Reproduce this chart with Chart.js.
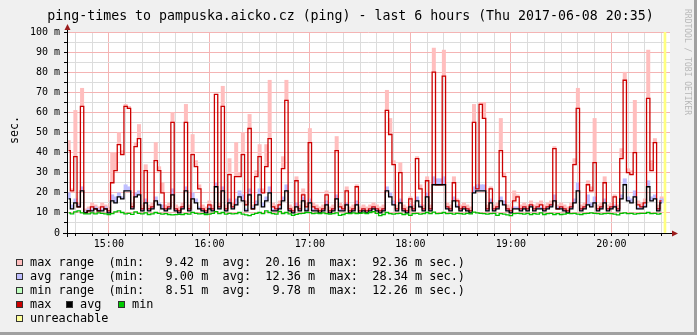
<!DOCTYPE html>
<html>
<head>
<meta charset="utf-8">
<script src="https://cdn.jsdelivr.net/npm/chart.js@4/dist/chart.umd.min.js"></script>
<style>
  html, body { margin: 0; padding: 0; }
  body { width: 697px; height: 335px; position: relative; overflow: hidden; background: #f0f0f0; font-family: 'DejaVu Sans Mono', monospace; }
  #frame { position: absolute; left: 0; top: 0; width: 694px; height: 332px; border-right: 3px solid #a0a0a0; border-bottom: 3px solid #a0a0a0; }
  canvas { position: absolute; left: 0; top: 0; }
  .t { position: absolute; white-space: pre; color: #000; }
  #title { left: 2px; top: 8px; width: 697px; text-align: center; font-size: 13.25px; line-height: 16px; }
  #unit { left: -6px; top: 123px; width: 40px; text-align: center; font-size: 11.7px; line-height: 14px; transform: rotate(-90deg); }
  #brand { left: 632px; top: 57px; width: 110px; text-align: center; font-size: 8px; line-height: 10px; color: #b8b8b8; transform: rotate(90deg); }
  .row { font-size: 11.85px; line-height: 14px; }
  .box { position: absolute; width: 5px; height: 5px; border: 1px solid #333; }
</style>
</head>
<body>
<div id="frame"></div>
<canvas id="myChart" width="697" height="335"></canvas>
<div class="t" id="title">ping-times to pampuska.aicko.cz (ping) - last 6 hours (Thu 2017-06-08 20:35)</div>
<div class="t" id="unit">sec.</div>
<div class="t" id="brand">RRDTOOL / TOBI OETIKER</div>
<div id="legend"></div>
<script>
// 2-minute bins starting 14:35 (minutes after 14:00)
const start = 35;
const step = 2;

// max (red line) and top of the pink "max range"
const maxLine = [
  41, 21, 38, 13, 63, 10, 11, 13, 12, 11,
  13, 12, 11, 25, 31, 44, 39, 63, 62, 13,
  43, 47, 12, 31, 12, 13, 36, 31, 20, 12,
  13, 55, 12, 11, 13, 55, 12, 39, 33, 22,
  12, 11, 14, 12, 69, 13, 63, 12, 29, 13,
  28, 28, 39, 14, 52, 12, 28, 38, 20, 33,
  47, 13, 12, 14, 32, 66, 12, 11, 26, 12,
  19, 13, 45, 13, 12, 11, 12, 19, 11, 12,
  41, 13, 12, 21, 11, 12, 23, 11, 12, 11,
  12, 13, 12, 11, 12, 61, 49, 34, 12, 30,
  12, 11, 17, 12, 37, 22, 12, 26, 12, 80,
  24, 24, 78, 13, 12, 25, 16, 12, 13, 12,
  11, 55, 22, 64, 57, 12, 22, 12, 13, 41,
  28, 12, 11, 16, 18, 12, 13, 12, 14, 12,
  13, 14, 12, 13, 14, 42, 12, 13, 12, 11,
  13, 34, 62, 12, 13, 24, 21, 35, 12, 13,
  25, 12, 13, 18, 12, 37, 76, 30, 29, 40,
  14, 13, 15, 67, 31, 45, 12, 16, null, null
];
const maxTop = [
  46, 22, 61, 15, 72, 12, 13, 15, 14, 13,
  15, 14, 13, 40, 40, 50, 41, 64, 63, 15,
  45, 54, 14, 34, 14, 15, 45, 33, 25, 14,
  15, 60, 14, 13, 15, 64, 14, 49, 36, 24,
  14, 13, 16, 14, 69, 15, 73, 14, 37, 15,
  45, 30, 50, 16, 59, 14, 31, 44, 22, 44,
  76, 15, 14, 16, 38, 76, 14, 13, 28, 14,
  22, 15, 52, 15, 14, 13, 14, 21, 13, 14,
  48, 15, 14, 23, 13, 14, 24, 13, 14, 13,
  14, 15, 14, 13, 14, 71, 57, 36, 14, 35,
  14, 13, 18, 14, 38, 24, 14, 28, 14, 92,
  26, 26, 91, 15, 14, 28, 17, 14, 15, 14,
  13, 64, 24, 65, 65, 14, 23, 14, 15, 57,
  30, 14, 13, 21, 19, 14, 15, 14, 16, 14,
  15, 16, 14, 15, 16, 43, 14, 15, 14, 13,
  15, 37, 72, 14, 15, 26, 23, 57, 14, 15,
  28, 14, 15, 19, 14, 42, 80, 32, 31, 66,
  16, 15, 17, 91, 36, 47, 14, 18, null, null
];
// avg (black line) and top of the blue "avg range"
const avgLine = [
  17, 12, 15, 13, 21, 10, 11, 11, 12, 11,
  11, 12, 10, 16, 15, 18, 17, 21, 21, 12,
  18, 19, 11, 15, 11, 12, 16, 14, 12, 11,
  12, 19, 11, 10, 12, 21, 11, 17, 15, 12,
  11, 10, 12, 11, 23, 12, 21, 11, 15, 12,
  14, 18, 16, 11, 19, 12, 14, 19, 13, 16,
  20, 11, 11, 12, 16, 21, 11, 10, 13, 11,
  16, 11, 15, 11, 11, 10, 11, 14, 10, 11,
  17, 11, 11, 14, 10, 11, 14, 10, 11, 10,
  11, 12, 11, 10, 11, 21, 18, 14, 11, 15,
  11, 10, 13, 11, 16, 13, 11, 18, 11, 24,
  24, 24, 24, 12, 11, 16, 13, 11, 12, 11,
  10, 20, 21, 21, 21, 11, 15, 11, 12, 16,
  14, 11, 10, 12, 12, 11, 12, 11, 13, 11,
  12, 12, 11, 12, 13, 16, 12, 12, 11, 10,
  12, 15, 21, 11, 12, 14, 13, 15, 11, 12,
  15, 11, 12, 13, 11, 17, 24, 16, 15, 18,
  12, 12, 13, 23, 16, 17, 11, 15, null, null
];
const avgTop = [
  20, 14, 17, 14, 23, 11, 12, 12, 13, 12,
  12, 13, 11, 19, 18, 20, 18, 24, 23, 13,
  20, 21, 12, 17, 12, 13, 18, 15, 14, 12,
  13, 22, 12, 11, 13, 23, 12, 20, 17, 13,
  12, 11, 13, 12, 25, 13, 23, 12, 17, 13,
  17, 21, 19, 12, 22, 13, 16, 22, 15, 18,
  23, 12, 12, 13, 18, 24, 12, 11, 15, 12,
  18, 12, 17, 12, 12, 11, 12, 16, 11, 12,
  19, 12, 12, 15, 11, 12, 16, 11, 12, 11,
  12, 13, 12, 11, 12, 23, 20, 16, 12, 17,
  12, 11, 14, 12, 18, 14, 12, 20, 12, 28,
  27, 27, 28, 13, 12, 18, 14, 12, 13, 12,
  11, 23, 24, 24, 24, 12, 17, 12, 13, 18,
  16, 12, 11, 13, 13, 12, 13, 12, 14, 12,
  13, 13, 12, 13, 14, 19, 13, 13, 12, 11,
  13, 17, 25, 12, 13, 19, 15, 18, 12, 13,
  17, 12, 13, 14, 12, 19, 27, 18, 17, 21,
  13, 13, 14, 26, 18, 19, 12, 17, null, null
];
// min (green line)
const minLine = [
  10, 9.5, 10.5, 11, 10, 9.5, 9.5, 10, 9.5, 10,
  9.8, 9.5, 9.2, 9.6, 10.5, 11, 10.2, 9.5, 9.8, 9.3,
  10.5, 9.8, 9.5, 10, 9.2, 9.5, 10.2, 9.8, 9.4, 9.6,
  9.2, 9.0, 9.1, 9.3, 9.2, 9.6, 9.4, 10.3, 9.8, 9.5,
  9.6, 9.2, 9.4, 9.8, 10.6, 9.6, 10.2, 9.4, 9.8, 9.5,
  9.6, 10.2, 9.4, 9.0, 8.6, 9.3, 9.8, 10.2, 9.6, 11,
  10.2, 9.6, 9.4, 10.8, 9.7, 10.2, 9.5, 8.8, 9.3, 9.6,
  9.8, 10.2, 10.1, 9.6, 9.9, 9.7, 10.0, 9.6, 9.4, 9.6,
  10.0, 8.8, 9.2, 9.8, 9.6, 10.0, 9.7, 9.8, 10.0, 9.6,
  10.2, 10.6, 9.8, 8.6, 9.2, 10.2, 9.6, 9.4, 9.6, 9.8,
  9.2, 9.5, 8.8, 9.6, 9.8, 9.4, 9.6, 10.2, 9.6, 10.4,
  9.6, 9.8, 10.2, 9.6, 9.8, 9.4, 9.8, 9.6, 9.4, 9.8,
  9.5, 10.4, 10.0, 9.8, 9.6, 9.4, 9.6, 9.8, 8.8, 9.6,
  9.4, 9.0, 8.6, 9.6, 9.8, 9.6, 9.4, 9.8, 9.2, 9.6,
  9.4, 10.0, 9.2, 9.6, 9.8, 9.2, 9.6, 9.2, 9.4, 9.8,
  9.6, 9.8, 9.4, 9.2, 9.6, 9.8, 10.0, 9.8, 9.6, 9.4,
  9.6, 9.8, 9.6, 9.4, 9.0, 9.8, 10.0, 9.6, 9.8, 9.4,
  9.6, 9.8, 9.8, 10.2, 9.6, 9.8, 9.4, 9.6, null, null
];
// bins with 100% loss
const unreachable = [178];

// legend texts
const legendNames = ['max range', 'avg range', 'min range'];
const legendMin = ['9.42', '9.00', '8.51'];
const legendAvg = ['20.16', '12.36', '9.78'];
const legendMax = ['92.36', '28.34', '12.26'];

const cPink = '#ffbebe', cBlue = '#bebeff', cLGreen = '#bfffbf';
const cRed = '#cc0000', cBlack = '#000000', cGreen = '#00c000', cYellow = '#ffff80';

const binX = i => start + step * i + step / 2;
const pts = arr => arr.map((v, i) => ({ x: binX(i), y: v }));
const range = (lo, hi) => lo.map((v, i) => ({ x: binX(i), y: (v == null || hi[i] == null) ? null : [v, hi[i]] }));

// x grid every 10 minutes, red line each hour
const xTicks = [];
for (let m = 40; m <= 390; m += 10) xTicks.push(m);

const gridRed = '#f4b4b4', gridGrey = '#dcdcdc';

const frame = {
  id: 'frame',
  beforeDraw(chart) {
    const { ctx, chartArea: a } = chart;
    ctx.save();
    ctx.fillStyle = '#ffffff';
    ctx.fillRect(a.left, a.top, a.right - a.left, a.bottom - a.top);
    ctx.restore();
  },
  afterDatasetsDraw(chart) {
    const { ctx, chartArea: a } = chart;
    const x0 = Math.round(a.left) + 0.5, y0 = Math.round(a.bottom) + 0.5;
    ctx.save();
    ctx.strokeStyle = '#000';
    ctx.lineWidth = 1;
    ctx.beginPath();
    ctx.moveTo(x0, a.bottom + 4); ctx.lineTo(x0, a.top - 3);
    ctx.moveTo(a.left - 4, y0); ctx.lineTo(a.right + 3, y0);
    ctx.stroke();
    ctx.fillStyle = '#9b1c1c';
    ctx.beginPath();
    ctx.moveTo(x0, a.top - 8); ctx.lineTo(x0 - 3, a.top - 2); ctx.lineTo(x0 + 3, a.top - 2);
    ctx.closePath(); ctx.fill();
    ctx.beginPath();
    ctx.moveTo(a.right + 8, y0); ctx.lineTo(a.right + 2, y0 - 3); ctx.lineTo(a.right + 2, y0 + 3);
    ctx.closePath(); ctx.fill();
    ctx.restore();
  }
};

const barBase = { type: 'bar', grouped: false, barPercentage: 1, categoryPercentage: 1, borderWidth: 0 };
const lineBase = { type: 'line', stepped: 'middle', pointRadius: 0, borderWidth: 1.3, fill: false };

new Chart('myChart', {
  type: 'line',
  data: {
    datasets: [
      Object.assign({}, barBase, { label: 'unreachable', data: unreachable.map(i => ({ x: binX(i), y: [0, 100] })), backgroundColor: cYellow, barThickness: 2, order: 10 }),
      Object.assign({}, barBase, { label: 'max range', data: range(maxLine, maxTop), backgroundColor: cPink, order: 9 }),
      Object.assign({}, barBase, { label: 'avg range', data: range(avgLine, avgTop), backgroundColor: cBlue, order: 8 }),
      Object.assign({}, lineBase, { label: 'max', data: pts(maxLine), borderColor: cRed, order: 3 }),
      Object.assign({}, lineBase, { label: 'avg', data: pts(avgLine), borderColor: cBlack, order: 2 }),
      Object.assign({}, lineBase, { label: 'min', data: pts(minLine), borderColor: cGreen, order: 1 })
    ]
  },
  options: {
    responsive: false,
    animation: false,
    devicePixelRatio: 1,
    layout: { padding: { left: 0, top: 32, right: 27, bottom: 0 } },
    plugins: { legend: { display: false }, tooltip: { enabled: false }, title: { display: false } },
    scales: {
      x: {
        type: 'linear',
        min: start,
        max: start + 360,
        offset: false,
        afterFit: s => { s.height = 102; },
        afterBuildTicks: s => { s.ticks = xTicks.map(v => ({ value: v })); },
        border: { display: false },
        grid: {
          offset: false,
          drawTicks: true,
          tickLength: 3,
          color: c => (c.tick && c.tick.value % 60 === 0) ? gridRed : gridGrey,
          tickColor: '#000'
        },
        ticks: {
          autoSkip: false,
          maxRotation: 0,
          padding: 2,
          color: '#000',
          font: { family: 'DejaVu Sans Mono', size: 10 },
          callback: v => v % 60 === 0 ? String(14 + v / 60).padStart(2, '0') + ':00' : ''
        }
      },
      y: {
        min: 0,
        max: 100,
        afterFit: s => { s.width = 67; },
        border: { display: false },
        grid: {
          drawTicks: true,
          tickLength: 3,
          color: c => (c.tick && c.tick.value % 10 === 0) ? gridRed : gridGrey,
          tickColor: '#000'
        },
        ticks: {
          stepSize: 5,
          autoSkip: false,
          padding: 4,
          color: '#000',
          font: { family: 'DejaVu Sans Mono', size: 10 },
          callback: v => v % 10 !== 0 ? '' : (v === 0 ? '0' : v + ' m')
        }
      }
    }
  },
  plugins: [frame]
});

// legend, drawn as text
const legend = document.getElementById('legend');
function addBox(x, rowY, color) {
  const b = document.createElement('div');
  b.className = 'box';
  b.style.left = x + 'px';
  b.style.top = (rowY - 3.5) + 'px';
  b.style.background = color;
  legend.appendChild(b);
}
function addText(x, rowY, text) {
  const d = document.createElement('div');
  d.className = 't row';
  d.style.left = x + 'px';
  d.style.top = (rowY - 7) + 'px';
  d.textContent = text;
  legend.appendChild(d);
}
const rowY = [262, 276, 290, 304, 318];
const rangeColors = [cPink, cBlue, cLGreen];
legendNames.forEach((n, i) => {
  addBox(16, rowY[i], rangeColors[i]);
  addText(30, rowY[i], n.padEnd(11) + '(min:' + legendMin[i].padStart(7) + ' m  avg:' +
    legendAvg[i].padStart(7) + ' m  max:' + legendMax[i].padStart(7) + ' m sec.)');
});
addBox(16, rowY[3], cRed);   addText(30, rowY[3], 'max');
addBox(66, rowY[3], cBlack); addText(80, rowY[3], 'avg');
addBox(118, rowY[3], '#00cc00'); addText(132, rowY[3], 'min');
addBox(16, rowY[4], '#ffff99'); addText(30, rowY[4], 'unreachable');
</script>
</body>
</html>
